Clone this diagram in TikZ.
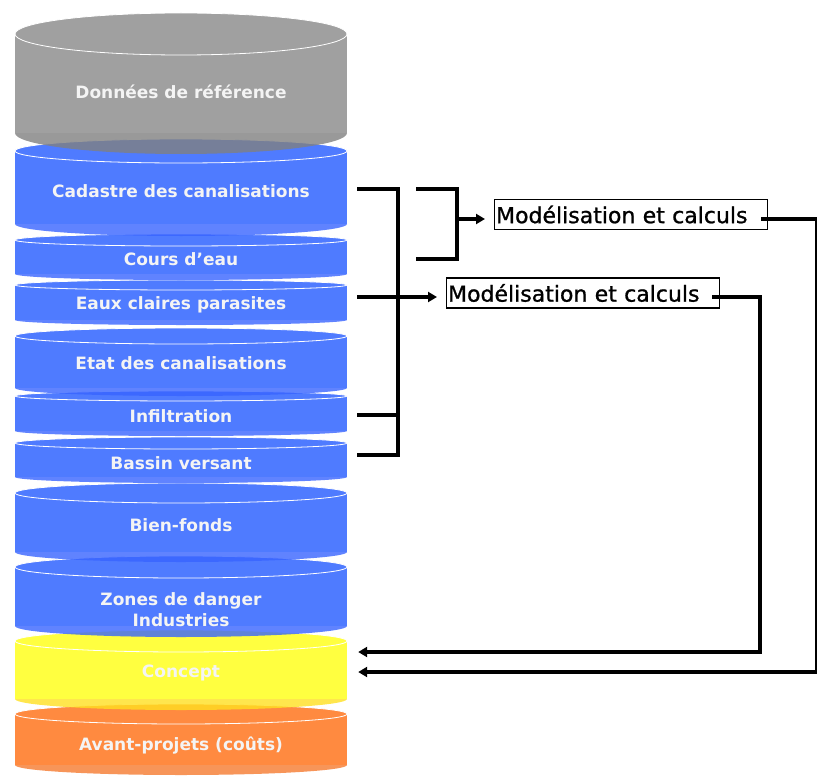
\documentclass[tikz,border=0pt]{standalone}
\usepackage{fontspec}
\setmainfont{DejaVu Sans}
\newfontfamily\boxfont[FakeBold=1]{DejaVu Sans}
\usetikzlibrary{arrows.meta}
\definecolor{greyc}{HTML}{A0A0A0}
\definecolor{greyd}{HTML}{808080}
\definecolor{bluec}{HTML}{4F7BFF}
\definecolor{blued}{HTML}{3864FF}
\definecolor{yellowc}{HTML}{FFFF40}
\definecolor{yellowd}{HTML}{FFE020}
\definecolor{orangec}{HTML}{FF8A40}
\definecolor{oranged}{HTML}{F57A30}
\definecolor{txtc}{HTML}{F4F4F4}
\newcommand\drawcyl[5]{%
  \fill[#4] (15,-#1) rectangle (347,-#2);
  \fill[#5, fill opacity=0.8] (15,-#2) arc[start angle=180,end angle=360,x radius=166,y radius=#3] -- cycle;
  \fill[#4] (181,-#1) ellipse[x radius=166,y radius=#3];
  \draw[white,line width=0.8pt] (181,-#1) ellipse[x radius=166,y radius=#3];
}
\tikzset{
  cyltext/.style={text=txtc, font=\bfseries\fontsize{17}{21}\selectfont, minimum width=332pt, inner sep=0pt, align=center},
  mbox/.style={draw, line width=1.2pt, font=\boxfont\fontsize{22}{26}\selectfont, text width=270pt, align=left, inner xsep=1.5pt, inner ysep=0pt, minimum height=30pt, anchor=west},
  conn/.style={line width=3.6pt},
  arr/.style={conn, -{Triangle[length=9pt,width=10pt]}}
}
\begin{document}
\begin{tikzpicture}[x=1pt,y=1pt]
\useasboundingbox (0,0) rectangle (817,-776);
% cylinders, bottom first
\drawcyl{714}{765}{10}{orangec}{oranged}
\drawcyl{641}{699}{11}{yellowc}{yellowd}
\drawcyl{567}{626}{11}{bluec}{blued}
\drawcyl{493}{552}{10}{bluec}{blued}
\drawcyl{443}{477}{6}{bluec}{blued}
\drawcyl{396}{431}{5}{bluec}{blued}
\drawcyl{336}{388}{8}{bluec}{blued}
\drawcyl{285}{320}{5}{bluec}{blued}
\drawcyl{240}{274}{6}{bluec}{blued}
\drawcyl{151}{224}{12}{bluec}{blued}
\drawcyl{34}{133}{21}{greyc}{greyd}
% labels
\node[cyltext] (ref) at (181,-92) {Données de référence};
\node[cyltext] (cad) at (181,-191) {Cadastre des canalisations};
\node[cyltext] (cou) at (181,-259) {Cours d’eau};
\node[cyltext] (eau) at (181,-305) {Eaux claires parasites};
\node[cyltext] (eta) at (181,-363) {Etat des canalisations};
\node[cyltext] (inf) at (181,-416) {Infiltration};
\node[cyltext] (bas) at (181,-463) {Bassin versant};
\node[cyltext] (bie) at (181,-525) {Bien-fonds};
\node[cyltext] (zon) at (181,-610) {Zones de danger\\Industries};
\node[cyltext] (con) at (181,-673) {Concept};
\node[cyltext] (ava) at (181,-746) {Avant-projets (coûts)};
% boxes
\node[mbox] (box1) at (494,-214.5) {Modélisation et calculs};
\node[mbox] (box2) at (446,-293) {Modélisation et calculs};
% big bracket
\coordinate (cadR) at ([xshift=10pt,yshift=2pt]cad.east);
\coordinate (basR) at ([xshift=10pt,yshift=8pt]bas.east);
\coordinate (infR) at ([xshift=10pt,yshift=1pt]inf.east);
\coordinate (eauR) at ([xshift=10pt,yshift=8pt]eau.east);
\coordinate (jT) at (398,-189);
\coordinate (jB) at (398,-455);
\draw[conn] (cadR) -- (jT) -- (jB) -- (basR);
\draw[conn] (infR) -- (infR -| jT);
\draw[arr, shorten >=9pt] (eauR) -- (eauR -| box2.west);
% small bracket
\coordinate (sTL) at (416,-189);
\coordinate (sT) at (457,-189);
\coordinate (sB) at (457,-259);
\coordinate (sBL) at (416,-259);
\coordinate (sM) at (457,-219);
\draw[conn] (sTL) -- (sT) -- (sB) -- (sBL);
\draw[arr, shorten >=9pt] (sM) -- (sM -| box1.west);
% feedback to Concept
\coordinate (e1) at (817,-219);
\coordinate (e2) at (760,-297);
\draw[arr, shorten >=11pt] ([xshift=-7pt,yshift=-4.5pt]box1.east) -- (e1) |- ([yshift=1pt]con.east);
\draw[arr, shorten >=11pt] ([xshift=-8pt,yshift=-4pt]box2.east) -- (e2) |- ([yshift=21pt]con.east);
\end{tikzpicture}
\end{document}
